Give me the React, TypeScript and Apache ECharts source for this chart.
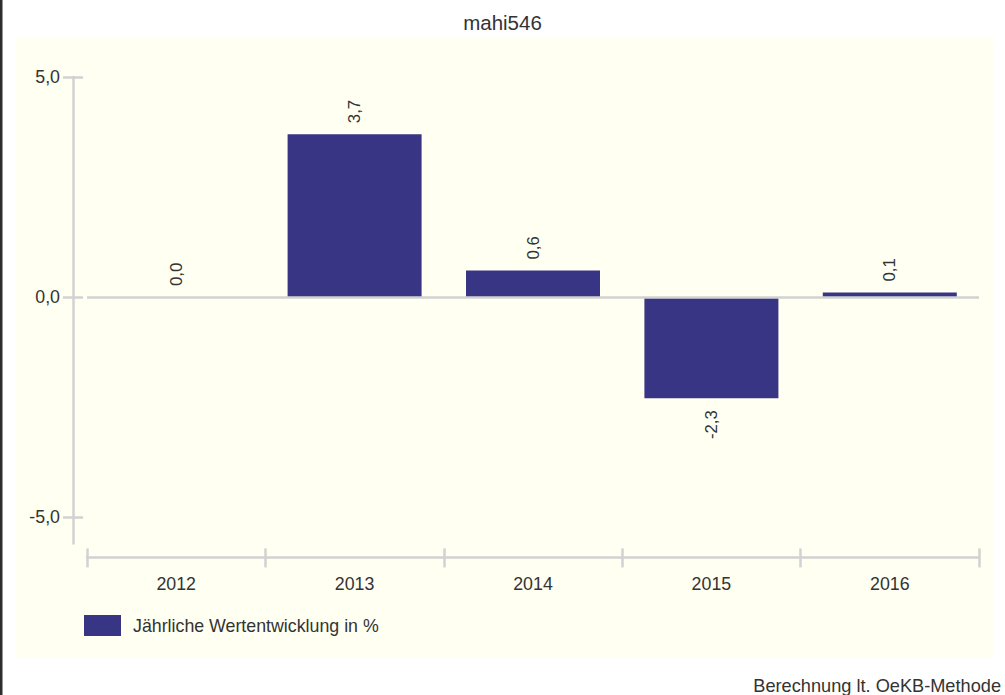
import React, { useEffect, useRef } from "react";
import * as echarts from "echarts";

const categories = ["2012", "2013", "2014", "2015", "2016"];
const values = [0.0, 3.7, 0.6, -2.3, 0.1];
const yTicks = [-5, 0, 5];
const seriesName = "Jährliche Wertentwicklung in %";
const titleText = "mahi546";
const footerText = "Berechnung lt. OeKB-Methode";

const FONT = "'Liberation Sans', Arial, Helvetica, sans-serif";
const TEXT = "#333333";
const LINE = "#d2d2d2";
const BAR = "#383584";

const fmt = (v: number) => v.toFixed(1).replace(".", ",");

export default function App() {
  const ref = useRef<HTMLDivElement>(null);
  useEffect(() => {
    document.body.style.margin = "0";
    const chart = echarts.init(ref.current!, null, { renderer: "svg" });
    const gridTop = 77;
    const gridHeight = 466.4;
    const baseY = {
      type: "value",
      min: -5.6,
      max: 5,
      position: "left",
      offset: 14,
      splitLine: { show: false },
    };
    const baseX = {
      type: "category",
      data: categories,
      position: "bottom",
      offset: 14,
      boundaryGap: true,
    };
    chart.setOption({
      animation: false,
      backgroundColor: "#ffffff",
      textStyle: { fontFamily: FONT },
      title: {
        text: titleText,
        left: "center",
        top: 7,
        textStyle: { fontSize: 20.5, fontWeight: "normal", color: TEXT, fontFamily: FONT },
      },
      graphic: [
        {
          type: "rect",
          z: -10,
          shape: { x: 15, y: 38, width: 978, height: 620 },
          style: { fill: "#fffff2" },
        },
        {
          type: "rect",
          z: -10,
          shape: { x: 0, y: 0, width: 2.5, height: 695 },
          style: { fill: "#2e2e2e" },
        },
        {
          type: "text",
          x: 1001,
          y: 686,
          style: {
            text: footerText,
            align: "right",
            verticalAlign: "middle",
            fontSize: 18.2,
            fontFamily: FONT,
            fill: TEXT,
          },
        },
      ],
      legend: {
        data: [seriesName],
        left: 84,
        top: 615,
        padding: 0,
        icon: "rect",
        itemWidth: 37,
        itemHeight: 21,
        textStyle: { fontSize: 17.8, color: TEXT, fontFamily: FONT, padding: [0, 0, 0, 7] },
      },
      grid: { left: 87, right: 26, top: gridTop, height: gridHeight },
      xAxis: [
        {
          ...baseX,
          axisLine: { show: true, onZero: false, lineStyle: { color: LINE, width: 2.5 } },
          axisTick: { show: true, inside: false, length: 10, lineStyle: { color: LINE, width: 2.5 } },
          axisLabel: { show: true, margin: 18, fontSize: 17.8, color: TEXT, fontFamily: FONT },
        },
        {
          ...baseX,
          axisLine: { show: false, onZero: false },
          axisTick: { show: true, inside: true, length: 9, lineStyle: { color: LINE, width: 2.5 } },
          axisLabel: { show: false },
        },
      ],
      yAxis: [
        {
          ...baseY,
          axisLine: { show: true, lineStyle: { color: LINE, width: 2.5 } },
          axisTick: { show: true, inside: false, length: 10, customValues: yTicks, lineStyle: { color: LINE, width: 2.5 } },
          axisLabel: {
            show: true,
            margin: 13,
            customValues: yTicks,
            formatter: (v: number) => fmt(v),
            fontSize: 17.8,
            color: TEXT,
            fontFamily: FONT,
          },
        },
        {
          ...baseY,
          axisLine: { show: false },
          axisTick: { show: true, inside: true, length: 10, customValues: yTicks, lineStyle: { color: LINE, width: 2.5 } },
          axisLabel: { show: false, customValues: yTicks },
        },
      ],
      series: [
        {
          name: seriesName,
          type: "bar",
          xAxisIndex: 0,
          yAxisIndex: 0,
          barWidth: 134,
          itemStyle: { color: BAR },
          data: values.map((v) => ({
            value: v,
            label: {
              position: v < 0 ? "bottom" : "top",
              align: v < 0 ? "right" : "left",
              distance: v < 0 ? 12 : 11,
            },
          })),
          label: {
            show: true,
            rotate: 90,
            verticalAlign: "middle",
            fontSize: 16.8,
            color: TEXT,
            fontFamily: FONT,
            formatter: (p: any) => fmt(p.value),
          },
          markLine: {
            silent: true,
            symbol: "none",
            label: { show: false },
            lineStyle: { color: LINE, width: 2.5, type: "solid" },
            data: [{ yAxis: 0 }],
          },
        },
      ],
    });
    return () => chart.dispose();
  }, []);
  return <div ref={ref} style={{ width: 1005, height: 695 }} />;
}
